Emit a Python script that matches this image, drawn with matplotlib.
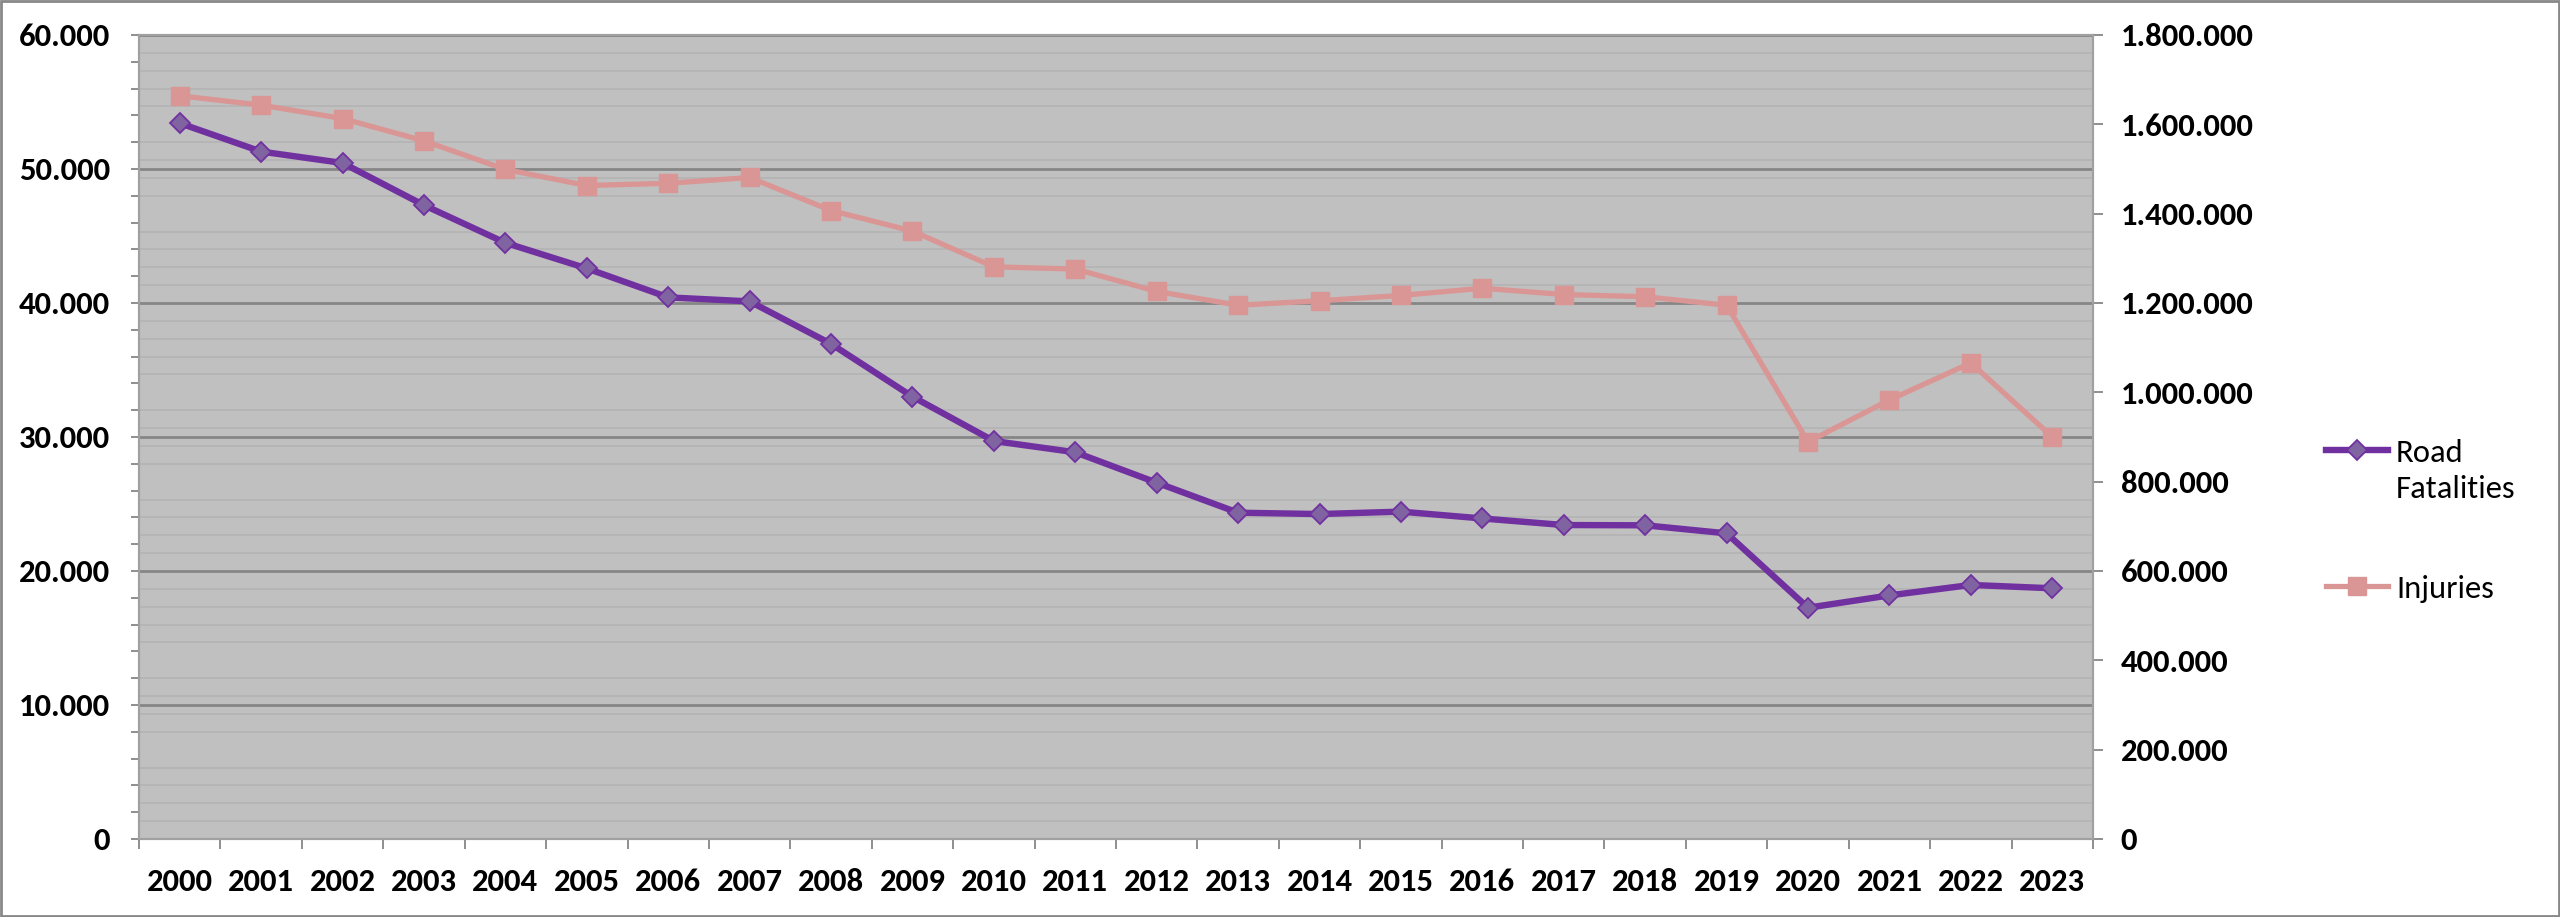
import matplotlib
import numpy as np

matplotlib.use("Agg")
import matplotlib.pyplot as plt  # noqa: E402
from matplotlib.lines import Line2D  # noqa: E402
from matplotlib.patches import Rectangle  # noqa: E402
from matplotlib.ticker import FuncFormatter, MultipleLocator  # noqa: E402

years = [str(y) for y in range(2000, 2024)]
fatalities = [53420, 51300, 50450, 47300, 44490, 42580, 40420, 40120, 36950, 33010,
              29700, 28860, 26590, 24350, 24250, 24430, 23920, 23430, 23410, 22810,
              17260, 18180, 18960, 18710]
injuries = [1664000, 1643000, 1613000, 1563000, 1499000, 1463000, 1468000, 1481000,
            1407000, 1361000, 1281000, 1276000, 1226000, 1195000, 1205000, 1217000,
            1233000, 1219000, 1214000, 1195000, 889000, 983000, 1066000, 900000]
series_names = ["Road\nFatalities", "Injuries"]

PURPLE = "#7030A0"
PURPLE_FILL = "#8064A2"
PINK = "#D99694"
BG = "#C0C0C0"
GRID = "#868686"
GRID_MINOR = "#B4B4B4"
FONT = ["Carlito", "DejaVu Sans"]
SIZE = 23.5

FATAL_STYLE = dict(color=PURPLE, lw=4.6, marker="D", ms=10.5, mfc=PURPLE_FILL,
                   mec=PURPLE, mew=1.3)
INJ_STYLE = dict(color=PINK, lw=3.8, marker="s", ms=13, mfc=PINK, mec=PINK)


def dotted(v, _pos):
    """Thousands with a dot, the way the source sheet prints them."""
    return f"{int(round(v)):,}".replace(",", ".")


def main():
    plt.rcParams["font.family"] = FONT
    plt.rcParams["font.weight"] = "bold"
    plt.rcParams["font.size"] = SIZE

    fig = plt.figure(figsize=(25.6, 9.17), dpi=100)
    ax = fig.add_axes([139 / 2560, 1 - 839 / 917, (2093 - 139) / 2560, (839 - 35) / 917])
    ax2 = ax.twinx()

    x = np.arange(len(years))
    ax.set_xlim(-0.5, len(years) - 0.5)
    ax.set_ylim(0, 60000)
    ax2.set_ylim(0, 1800000)

    ax.set_facecolor(BG)
    ax.yaxis.set_major_locator(MultipleLocator(10000))
    ax.yaxis.set_minor_locator(MultipleLocator(2000))
    ax.yaxis.set_major_formatter(FuncFormatter(dotted))
    ax.grid(axis="y", which="major", color=GRID, lw=2)
    ax.set_axisbelow(True)

    ax2.yaxis.set_major_locator(MultipleLocator(200000))
    ax2.yaxis.set_minor_locator(MultipleLocator(40000))
    ax2.yaxis.set_major_formatter(FuncFormatter(dotted))
    ax2.grid(axis="y", which="minor", color=GRID_MINOR, lw=1.3)
    ax2.set_axisbelow(True)

    # category axis: ticks sit between years, labels in the middle
    ax.set_xticks(np.arange(-0.5, len(years)), minor=False)
    ax.set_xticklabels([])
    ax.set_xticks(x, minor=True)
    ax.set_xticklabels(years, minor=True)
    ax.tick_params(axis="x", which="major", length=7, width=1.3, color=GRID)
    ax.tick_params(axis="x", which="minor", length=0, pad=21, labelsize=SIZE)

    ax.tick_params(axis="y", which="both", length=6, width=1.3, color=GRID, pad=15,
                   labelsize=SIZE)
    ax2.tick_params(axis="y", which="major", length=7, width=1.3, color=GRID, pad=13,
                    labelsize=SIZE)
    ax2.tick_params(axis="y", which="minor", length=0)

    for a in (ax, ax2):
        for s in a.spines.values():
            s.set_color("#A0A0A0")
            s.set_linewidth(1.5)

    # both series on the top axes so every gridline stays underneath
    ax2.plot(x, fatalities, transform=ax.transData, zorder=3, **FATAL_STYLE)
    ax2.plot(x, injuries, zorder=3, **INJ_STYLE)

    # legend drawn by hand so the handle lines up with the first text line
    marker_keys = ("marker", "ms", "mfc", "mec", "mew")
    for name, style, yp in zip(series_names, [FATAL_STYLE, INJ_STYLE], [450, 586]):
        yf = 1 - yp / 917
        line_only = {k: v for k, v in style.items() if k not in marker_keys}
        fig.add_artist(Line2D([2326 / 2560, 2388 / 2560], [yf, yf],
                              transform=fig.transFigure, **line_only))
        mark_only = {k: v for k, v in style.items() if k != "lw"}
        fig.add_artist(Line2D([2357 / 2560], [yf], transform=fig.transFigure, lw=0,
                              **mark_only))
        fig.text(2396 / 2560, yf + 0.012, name, fontsize=SIZE, fontweight="normal",
                 va="top", ha="left", linespacing=1.35)

    fig.add_artist(Rectangle((0.0005, 0.001), 0.999, 0.998, transform=fig.transFigure,
                             fill=False, ec="#888888", lw=2))

    fig.savefig("out.png", dpi=100)
    plt.close(fig)


if __name__ == "__main__":
    main()
